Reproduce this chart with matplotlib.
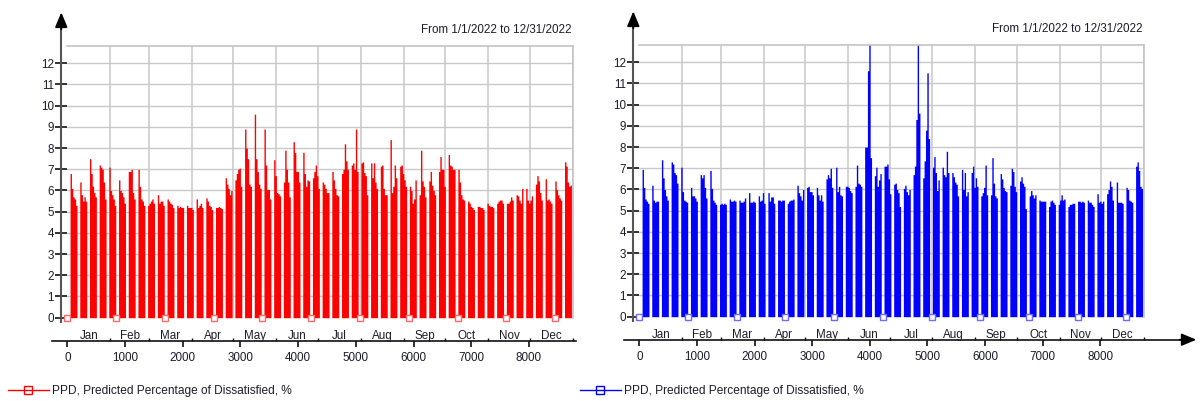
import numpy as np
import matplotlib
matplotlib.use("Agg")
import matplotlib.pyplot as plt
from matplotlib.lines import Line2D
from matplotlib.transforms import offset_copy

plt.rcParams['font.family'] = ['Liberation Sans', 'DejaVu Sans']

# ---------------------------------------------------------------- data
months = ['Jan', 'Feb', 'Mar', 'Apr', 'May', 'Jun',
          'Jul', 'Aug', 'Sep', 'Oct', 'Nov', 'Dec']
month_days = [31, 28, 31, 30, 31, 30, 31, 31, 30, 31, 30, 31]
hour_ticks = [0, 1000, 2000, 3000, 4000, 5000, 6000, 7000, 8000]
ppd_ticks = list(range(0, 13))
period_text = "From 1/1/2022 to 12/31/2022"
series_label = "PPD, Predicted Percentage of Dissatisfied, %"

# 1 Jan 2022 is a Saturday: first occupied weekday is day index 2
first_monday = 2
# hours at which the series marker symbols are placed
marker_hours = [0, 846, 1691, 2537, 3382, 4228, 5073, 5919, 6764, 7610, 8455]

# Daily peak PPD (%), Monday..Friday, one row per week (weekends are 0)
ppd_red = [
    [6.8, 6.1, 5.7, 5.6, 5.3], [6.4, 5.8, 5.5, 5.7, 5.5], [7.5, 6.8, 6.2, 5.9, 5.7],
    [7.2, 7.1, 7.0, 6.4, 5.6], [7.1, 6.0, 5.8, 5.6, 5.3], [6.5, 6.0, 5.9, 5.7, 5.4],
    [6.9, 6.9, 7.0, 5.9, 5.6], [7.0, 6.2, 5.6, 5.5, 5.3], [5.3, 5.4, 5.5, 5.6, 5.4],
    [5.8, 5.4, 5.5, 5.5, 5.3], [5.6, 5.5, 5.4, 5.35, 5.2], [5.3, 5.2, 5.25, 5.2, 5.2],
    [5.3, 5.2, 5.2, 5.2, 5.1], [5.6, 5.2, 5.3, 5.4, 5.2], [5.65, 5.5, 5.3, 5.25, 5.1],
    [5.2, 5.2, 5.25, 5.2, 5.15], [6.6, 6.3, 6.1, 5.8, 6.0], [6.5, 6.8, 7.0, 7.05, 6.2],
    [8.9, 8.0, 7.5, 6.3, 6.2], [9.6, 7.5, 6.9, 6.3, 6.1], [8.9, 7.2, 6.05, 6.05, 5.6],
    [7.45, 6.7, 5.9, 5.85, 5.75], [6.4, 7.9, 7.0, 6.4, 5.7], [8.3, 7.8, 6.9, 6.9, 6.4],
    [7.8, 6.8, 6.2, 6.5, 6.45], [6.6, 6.9, 7.2, 6.7, 6.1], [6.4, 6.3, 6.1, 5.9, 5.9],
    [6.9, 6.5, 6.1, 5.8, 5.75], [6.8, 7.0, 8.2, 7.4, 7.0], [7.2, 7.3, 7.0, 8.9, 6.9],
    [7.3, 7.35, 6.85, 6.7, 5.8], [7.3, 6.6, 7.3, 6.4, 6.1], [7.15, 7.2, 6.1, 5.8, 5.8],
    [8.4, 5.9, 6.2, 7.2, 6.6], [7.15, 7.2, 6.8, 6.5, 6.2], [6.2, 6.0, 5.4, 5.6, 6.5],
    [5.8, 7.9, 6.45, 6.2, 5.7], [6.45, 6.9, 6.25, 6.0, 5.8], [6.9, 7.6, 7.0, 7.0, 6.2],
    [7.7, 7.2, 7.15, 7.0, 7.0], [7.0, 6.4, 5.8, 5.6, 5.55], [5.5, 5.4, 5.25, 5.2, 5.1],
    [5.25, 5.25, 5.2, 5.2, 5.1], [5.4, 5.3, 5.25, 5.25, 5.2], [5.4, 5.5, 5.55, 5.55, 5.4],
    [5.4, 5.4, 5.5, 5.7, 5.55], [5.8, 5.75, 5.55, 5.4, 6.1], [6.1, 5.55, 5.4, 5.55, 5.75],
    [6.3, 6.7, 6.45, 5.9, 5.55], [6.55, 5.55, 5.6, 5.5, 5.4], [6.45, 6.05, 5.8, 5.65, 5.55],
    [7.35, 7.15, 6.4, 6.2, 6.25],
]

ppd_blue = [
    [6.95, 6.1, 5.55, 5.45, 5.35], [6.2, 5.5, 5.4, 5.45, 5.45], [7.4, 6.55, 6.0, 5.7, 5.5],
    [7.3, 7.2, 6.8, 6.7, 6.3], [7.05, 5.9, 5.5, 5.45, 5.4], [6.1, 5.7, 5.7, 5.6, 5.45],
    [6.7, 6.55, 6.7, 6.1, 5.6], [6.9, 6.05, 5.5, 5.4, 5.3], [5.3, 5.35, 5.3, 5.35, 5.3],
    [5.55, 5.45, 5.45, 5.5, 5.45], [5.5, 5.4, 5.4, 5.45, 5.6], [5.85, 5.4, 5.4, 5.45, 5.4],
    [5.7, 5.45, 5.5, 5.85, 5.35], [5.85, 5.45, 5.65, 5.65, 5.35], [5.5, 5.5, 5.45, 5.5, 5.5],
    [5.35, 5.45, 5.5, 5.5, 5.55], [6.2, 5.85, 5.7, 5.5, 6.0], [6.1, 6.15, 5.9, 5.9, 5.75],
    [6.1, 5.75, 5.5, 5.75, 5.45], [6.5, 6.7, 6.55, 7.0, 6.1], [7.05, 5.9, 6.15, 5.75, 5.7],
    [6.15, 6.15, 6.1, 5.95, 5.85], [6.15, 7.15, 6.3, 6.25, 6.15], [8.0, 8.0, 11.6, 13.0, 7.5],
    [6.65, 7.05, 6.15, 6.45, 6.75], [7.1, 7.1, 7.2, 6.5, 5.8], [6.25, 6.3, 6.0, 5.85, 5.2],
    [6.05, 6.2, 5.9, 5.75, 6.0], [6.7, 7.1, 9.3, 13.0, 9.6], [6.55, 7.35, 8.8, 11.5, 8.4],
    [7.05, 7.55, 6.8, 5.95, 6.45], [7.05, 6.7, 6.6, 7.8, 6.8], [6.8, 6.6, 6.35, 6.25, 5.7],
    [6.95, 6.0, 6.8, 5.7, 5.9], [6.8, 7.1, 6.1, 6.55, 6.15], [5.7, 5.85, 6.1, 7.15, 5.75],
    [5.75, 7.5, 6.3, 5.7, 5.6], [6.75, 6.5, 6.1, 5.95, 5.9], [6.2, 7.0, 6.85, 6.15, 5.9],
    [6.4, 6.6, 6.3, 6.15, 5.1], [5.7, 5.95, 5.75, 5.6, 5.75], [5.5, 5.45, 5.45, 5.45, 5.45],
    [5.2, 5.45, 5.5, 5.4, 5.3], [5.3, 5.5, 5.75, 5.5, 5.55], [5.2, 5.3, 5.3, 5.35, 5.35],
    [5.45, 5.45, 5.4, 5.45, 5.4], [5.5, 5.4, 5.4, 5.3, 5.2], [5.8, 5.4, 5.45, 5.35, 5.45],
    [5.8, 6.0, 6.4, 6.15, 5.5], [6.35, 5.4, 5.4, 5.4, 5.35], [6.1, 6.0, 5.5, 5.45, 5.4],
    [7.1, 7.3, 6.9, 6.15, 6.05],
]

HOURS_PER_YEAR = 8760
PT = 72.0 / 100.0   # points per pixel at 100 dpi


def daily_values(weeks):
    vals = np.zeros(365)
    for w, row in enumerate(weeks):
        for d, v in enumerate(row):
            vals[first_monday + 7 * w + d] = v
    return vals


month_edges = np.concatenate([[0], np.cumsum(month_days)]) * 24
month_mids = (month_edges[:-1] + month_edges[1:]) / 2

fig = plt.figure(figsize=(12, 4.01), dpi=100)
W, H = 1200, 401
ARROW = '-|>,head_length=1.0,head_width=0.42'


def panel(rect, weeks, color, marker_edge, x_end, with_arrow):
    ax = fig.add_axes(rect)
    vals = daily_values(weeks)
    edges = np.arange(366) * 24
    ax.fill_between(edges, np.append(vals, vals[-1]), step='post',
                    color=color, lw=0, zorder=2)
    ax.plot(marker_hours, np.zeros(len(marker_hours)), ls='none', marker='s',
            ms=4.2, mfc='white', mec=marker_edge, mew=1.0, zorder=4, clip_on=False)

    ax.set_xlim(0, HOURS_PER_YEAR)
    ax.set_ylim(0, 12.8)

    # grid: horizontal at each PPD unit, vertical at month boundaries
    ax.set_yticks(ppd_ticks)
    ax.set_xticks(hour_ticks)
    ax.set_xticks(month_edges, minor=True)
    ax.yaxis.grid(True, color='#c8c8c8', lw=1.0, zorder=0)
    ax.xaxis.grid(True, which='minor', color='#c8c8c8', lw=1.1, zorder=0)
    ax.set_axisbelow(True)

    for s in ('top', 'right'):
        ax.spines[s].set_color('#c4c4c4')
        ax.spines[s].set_linewidth(1.2)

    ax.spines['left'].set_position(('outward', 6 * PT))
    ax.spines['left'].set_bounds(-0.2, 13.9)
    ax.spines['left'].set_color('#555555')
    ax.spines['left'].set_linewidth(1.5)

    ax.spines['bottom'].set_position(('outward', 23 * PT))
    ax.spines['bottom'].set_bounds(-265, x_end)
    ax.spines['bottom'].set_color('#111111')
    ax.spines['bottom'].set_linewidth(1.2)

    ax.tick_params(axis='y', direction='inout', length=12 * PT, width=1.3,
                   color='#222222', labelsize=8.4, pad=1.0, labelcolor='#1c1c2c')
    ax.tick_params(axis='x', which='major', direction='out', length=6 * PT, width=1.2,
                   color='#111111', labelsize=8.4, pad=3.8, labelcolor='#1c1c2c')
    ax.tick_params(axis='x', which='minor', direction='in', length=3.5 * PT, width=1.0,
                   color='#111111')

    # month names sit above the hour axis line
    for name, mid in zip(months, month_mids):
        ax.annotate(name, xy=(mid, 0), xycoords=ax.get_xaxis_transform(),
                    xytext=(0, -13.2), textcoords='offset points',
                    ha='center', va='center', fontsize=8.4, color='#1c1c2c',
                    annotation_clip=False)

    # arrow head on top of the PPD axis
    ytr = offset_copy(ax.get_yaxis_transform(), fig=fig, x=-6, y=0, units='dots')
    ax.annotate('', xy=(0, 14.4), xycoords=ytr, xytext=(0, 13.6), textcoords=ytr,
                arrowprops=dict(arrowstyle=ARROW, color='black', lw=1.3,
                                mutation_scale=9, shrinkA=0, shrinkB=0),
                annotation_clip=False)
    if with_arrow:
        xtr = offset_copy(ax.get_xaxis_transform(), fig=fig, x=0, y=-23, units='dots')
        ax.annotate('', xy=(x_end + 230, 0), xycoords=xtr,
                    xytext=(x_end - 60, 0), textcoords=xtr,
                    arrowprops=dict(arrowstyle=ARROW, color='black', lw=1.2,
                                    mutation_scale=9, shrinkA=0, shrinkB=0),
                    annotation_clip=False)

    ax.annotate(period_text, xy=(1, 1), xycoords='axes fraction',
                xytext=(-1, 11.5), textcoords='offset points',
                ha='right', va='center', fontsize=8.4, color='#1c1c2c')
    return ax


ax1 = panel([67.3 / W, (H - 317.7) / H, 505.5 / W, 271.4 / H],
            ppd_red, '#ff0000', '#ff6a6a', 8815, False)
ax2 = panel([639.3 / W, (H - 316.7) / H, 504.6 / W, 271.4 / H],
            ppd_blue, '#0000ff', '#6a6aff', 9440, True)

for x0, c in ((8, '#ff0000'), (580, '#0000ff')):
    h = Line2D([], [], color=c, lw=1.0, marker='s', ms=5.5, mfc='none', mec=c, mew=1.0)
    fig.legend([h], [series_label], loc='center left',
               bbox_to_anchor=(x0 / W, (H - 391) / H), frameon=False,
               fontsize=8.6, handlelength=3.4, handletextpad=0.3,
               borderpad=0, borderaxespad=0, labelcolor='#1c1c2c')

fig.savefig('out.png', dpi=100)
